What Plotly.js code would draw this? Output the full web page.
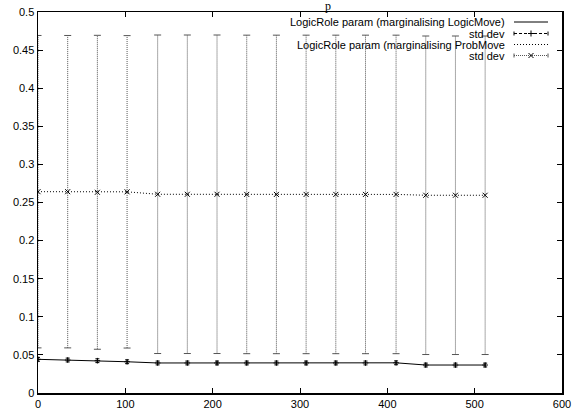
<!DOCTYPE html>
<html>
<head>
<meta charset="utf-8">
<script src="https://cdn.plot.ly/plotly-3.0.1.min.js"></script>
<style>html,body{margin:0;padding:0;background:#fff;}#chart{width:572px;height:412px;}</style>
</head>
<body>
<div id="chart"></div>
<script>
// ---- data ----
const xs = [0, 34, 68, 102, 137, 171, 205, 239, 273, 307, 341, 375, 410, 444, 478, 512];
const logicMove = [0.0442, 0.0433, 0.0424, 0.0410, 0.0394, 0.0394, 0.0394, 0.0394, 0.0394, 0.0394, 0.0394, 0.0394, 0.0396, 0.0367, 0.0367, 0.0367];
const logicMoveSd = [0.0025, 0.0025, 0.0025, 0.0025, 0.0025, 0.0025, 0.0025, 0.0025, 0.0025, 0.0025, 0.0025, 0.0025, 0.0025, 0.0025, 0.0025, 0.0025];
const probMove = [0.2642, 0.2642, 0.2634, 0.2640, 0.2608, 0.2608, 0.2608, 0.2606, 0.2606, 0.2606, 0.2606, 0.2606, 0.2606, 0.2595, 0.2595, 0.2595];
const probMoveSd = [0.205, 0.205, 0.206, 0.205, 0.209, 0.209, 0.209, 0.209, 0.209, 0.209, 0.209, 0.209, 0.209, 0.209, 0.209, 0.209];
const legendLabels = ["LogicRole param (marginalising LogicMove)", "std dev", "LogicRole param (marginalising ProbMove", "std dev"];
const titleText = "p";
const xTicks = [0, 100, 200, 300, 400, 500, 600];
const yTicks = [0, 0.05, 0.1, 0.15, 0.2, 0.25, 0.3, 0.35, 0.4, 0.45, 0.5];

// ---- build traces ----
const barX = [], barY = [], capX = [], capY = [];
xs.forEach((x, i) => {
  barX.push(x, x, null);
  barY.push(probMove[i] - probMoveSd[i], probMove[i] + probMoveSd[i], null);
  capX.push(x, x);
  capY.push(probMove[i] - probMoveSd[i], probMove[i] + probMoveSd[i]);
});
const grey = '#555';
const traces = [
  {x: barX, y: barY, mode: 'lines', line: {color: grey, width: 1, dash: '1px,1px'}, hoverinfo: 'skip', showlegend: false},
  {x: capX, y: capY, mode: 'markers', marker: {symbol: 'line-ew', size: 5, line: {color: grey, width: 1}}, hoverinfo: 'skip', showlegend: false},
  {x: xs, y: probMove, mode: 'lines+markers', name: legendLabels[2],
   line: {color: 'black', width: 1, dash: '1px,2px'},
   marker: {symbol: 'x-thin', size: 5, line: {color: 'black', width: 1}}, showlegend: false},
  {x: xs, y: logicMove, mode: 'lines+markers', name: legendLabels[0],
   line: {color: 'black', width: 1},
   marker: {symbol: 'cross-thin', size: 4, line: {color: 'black', width: 1}},
   error_y: {type: 'data', array: logicMoveSd, visible: true, color: 'black', thickness: 1, width: 2},
   showlegend: false}
];

// ---- custom gnuplot-style key (text right, sample left) ----
const L = 38, R = 562, T = 12, B = 393;
const px = v => (v - L) / (R - L);
const py = v => (B - v) / (B - T);
const keyY = [22, 33.5, 44.5, 55.5];
const textRight = 507, s0 = 514, s1 = 548, sm = 531;
const font = {family: 'Liberation Sans, Arial, sans-serif', size: 11, color: 'black'};
const annotations = legendLabels.map((t, i) => ({
  text: t, xref: 'paper', yref: 'paper', x: px(textRight), y: py(keyY[i]),
  xanchor: 'right', yanchor: 'middle', showarrow: false, font: font
}));
annotations.push({text: titleText, xref: 'paper', yref: 'paper', x: px(328), y: py(14),
  xanchor: 'center', yanchor: 'bottom', showarrow: false, borderpad: 0,
  font: {family: 'Liberation Serif, Times New Roman, serif', size: 12, color: 'black'}});
const seg = (xa, ya, xb, yb, color, dash) => ({type: 'line', xref: 'paper', yref: 'paper',
  x0: px(xa), y0: py(ya), x1: px(xb), y1: py(yb), line: {color: color, width: 1, dash: dash || 'solid'}});
const shapes = [
  seg(s0, keyY[0], s1, keyY[0], 'black'),
  seg(s0, keyY[1], s1, keyY[1], 'black', '3px,2px'),
  seg(s0, keyY[1] - 2, s0, keyY[1] + 2, 'black'),
  seg(s1, keyY[1] - 2, s1, keyY[1] + 2, 'black'),
  seg(sm - 3, keyY[1], sm + 3, keyY[1], 'black'),
  seg(sm, keyY[1] - 3, sm, keyY[1] + 3, 'black'),
  seg(s0, keyY[2], s1, keyY[2], 'black', '1px,2px'),
  seg(s0, keyY[3], s1, keyY[3], grey, '1px,1px'),
  seg(s0, keyY[3] - 2, s0, keyY[3] + 2, grey),
  seg(s1, keyY[3] - 2, s1, keyY[3] + 2, grey),
  seg(sm - 2.5, keyY[3] - 2.5, sm + 2.5, keyY[3] + 2.5, 'black'),
  seg(sm - 2.5, keyY[3] + 2.5, sm + 2.5, keyY[3] - 2.5, 'black')
];

const axisCommon = {
  showgrid: false, zeroline: false, showline: true, linecolor: 'black', linewidth: 1.5,
  mirror: 'ticks', ticks: 'inside', ticklen: 5, tickwidth: 1, tickcolor: 'black',
  tickfont: font, automargin: false
};
const layout = {
  width: 572, height: 412,
  margin: {l: L, r: 572 - R, t: T, b: 412 - B, pad: 0},
  paper_bgcolor: 'white', plot_bgcolor: 'white',
  showlegend: false,
  xaxis: Object.assign({}, axisCommon, {range: [0, 600], tickvals: xTicks, ticktext: xTicks.map(String)}),
  yaxis: Object.assign({}, axisCommon, {range: [0, 0.5], tickvals: yTicks, ticktext: yTicks.map(String)}),
  annotations: annotations, shapes: shapes
};
Plotly.newPlot('chart', traces, layout, {staticPlot: true, displayModeBar: false});
</script>
</body>
</html>
